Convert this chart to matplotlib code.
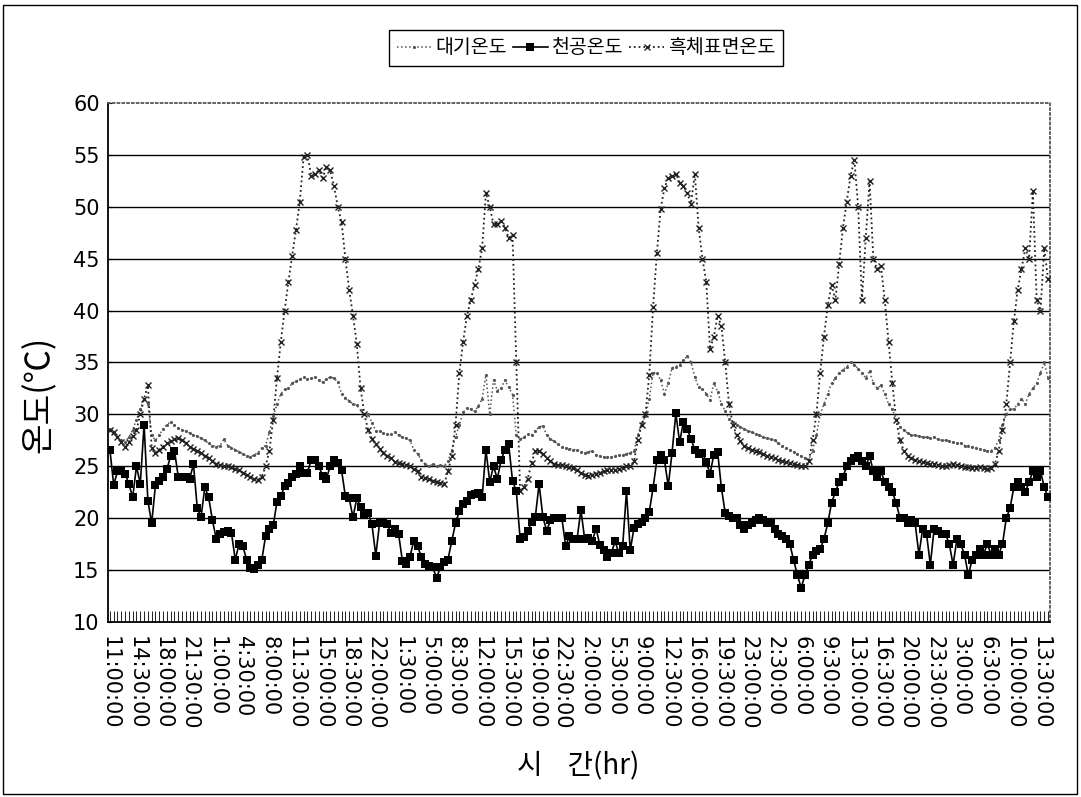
import numpy as np
import matplotlib
matplotlib.use("Agg")
import matplotlib.pyplot as plt
from matplotlib.patches import Rectangle

# =====================================
# DATA (30 min interval, 11:00 day 1 ~)
# =====================================

time_labels = [
    "11:00:00", "14:30:00", "18:00:00", "21:30:00", "1:00:00", "4:30:00",
    "8:00:00", "11:30:00", "15:00:00", "18:30:00", "22:00:00", "1:30:00",
    "5:00:00", "8:30:00", "12:00:00", "15:30:00", "19:00:00", "22:30:00",
    "2:00:00", "5:30:00", "9:00:00", "12:30:00", "16:00:00", "19:30:00",
    "23:00:00", "2:30:00", "6:00:00", "9:30:00", "13:00:00", "16:30:00",
    "20:00:00", "23:30:00", "3:00:00", "6:30:00", "10:00:00", "13:30:00",
]

air_temp = [
    28.6, 28.2, 27.8, 27.5, 27.3, 27.8, 28.5, 29.5, 30.5, 31.5,
    31.0, 28.0, 27.5, 28.0, 28.6, 29.0, 29.3, 29.0, 28.7, 28.5,
    28.4, 28.2, 28.0, 27.9, 27.7, 27.5, 27.2, 27.0, 26.9, 27.0,
    27.6, 27.0, 26.8, 26.6, 26.4, 26.2, 26.0, 25.9, 26.1, 26.3,
    26.8, 27.0, 28.3, 29.8, 31.0, 32.0, 32.4, 32.5, 33.0, 33.2,
    33.4, 33.6, 33.4, 33.5, 33.6, 33.3, 33.1, 33.4, 33.6, 33.5,
    33.1, 32.0, 31.6, 31.3, 31.0, 30.9, 30.4, 30.0, 30.0, 29.2,
    28.4, 28.4, 28.2, 28.1, 28.1, 28.3, 28.0, 27.8, 27.7, 27.5,
    26.6, 26.2, 25.6, 25.2, 25.0, 25.2, 25.0, 25.1, 25.0, 25.5,
    26.5, 27.8, 29.0, 30.2, 30.6, 30.5, 30.3, 30.8, 31.5, 33.8,
    30.0, 33.3, 32.3, 32.5, 33.3, 32.6, 31.9, 28.0, 27.6, 27.8,
    28.1, 28.0, 28.4, 28.8, 28.9, 28.0, 27.6, 27.4, 27.1, 26.9,
    26.8, 26.7, 26.6, 26.6, 26.4, 26.3, 26.4, 26.5, 26.1, 26.0,
    25.9, 25.9, 25.9, 26.0, 26.1, 26.1, 26.2, 26.3, 26.5, 28.0,
    29.2, 29.8, 31.5, 34.0, 34.0, 33.3, 32.0, 33.0, 34.5, 34.6,
    34.8, 35.2, 35.6, 35.0, 33.6, 32.6, 32.4, 32.0, 31.4, 33.0,
    32.2, 31.0, 30.3, 29.6, 29.3, 29.0, 28.8, 28.6, 28.4, 28.3,
    28.1, 28.0, 27.8, 27.7, 27.6, 27.5, 27.2, 27.0, 26.8, 26.6,
    26.4, 26.2, 26.0, 25.8, 25.6, 26.5, 28.0, 30.0, 31.0, 32.0,
    33.0, 33.5, 34.0, 34.3, 34.6, 35.0, 34.8, 34.4, 34.0, 33.5,
    34.2, 33.0, 32.5, 32.8, 32.0, 31.0, 30.5, 29.5, 28.8, 28.5,
    28.2, 28.0, 28.0, 27.9, 27.8, 27.8, 27.7, 27.8, 27.6, 27.5,
    27.5, 27.4, 27.3, 27.2, 27.2, 27.0, 27.0, 26.9, 26.8, 26.7,
    26.6, 26.5, 26.5, 26.8, 27.5, 29.0, 30.0, 30.5, 30.5, 31.0,
    31.5, 31.0, 32.0, 32.5, 33.0, 34.0, 35.0, 33.5,
]

sky_temp = [
    26.6, 23.2, 24.5, 24.5, 24.3, 23.3, 22.0, 25.0, 23.3, 29.0,
    21.7, 19.5, 23.2, 23.6, 24.0, 24.7, 26.0, 26.5, 24.0, 24.0,
    24.0, 23.8, 25.2, 21.0, 20.1, 23.0, 22.0, 19.8, 18.0, 18.5,
    18.7, 18.8, 18.6, 16.0, 17.5, 17.3, 16.0, 15.2, 15.1, 15.5,
    16.0, 18.3, 19.0, 19.3, 21.6, 22.1, 23.1, 23.4, 24.0, 24.3,
    25.0, 24.4, 24.4, 25.6, 25.6, 25.0, 24.1, 23.8, 25.0, 25.6,
    25.3, 24.6, 22.1, 21.9, 20.1, 21.9, 21.1, 20.4, 20.5, 19.4,
    16.4, 19.5, 19.6, 19.4, 18.6, 19.0, 18.5, 15.9, 15.6, 16.3,
    17.8, 17.3, 16.3, 15.6, 15.4, 15.3, 14.2, 15.3, 15.8, 16.0,
    17.8, 19.5, 20.7, 21.4, 21.7, 22.2, 22.3, 22.4, 22.0, 26.6,
    23.5, 25.0, 23.8, 25.6, 26.6, 27.1, 23.6, 22.6, 18.0, 18.2,
    18.8, 19.6, 20.1, 23.3, 20.1, 18.8, 19.8, 20.0, 20.0, 20.0,
    17.3, 18.3, 18.0, 18.0, 20.8, 18.0, 18.1, 17.8, 19.0, 17.4,
    16.9, 16.3, 16.6, 17.8, 16.6, 17.3, 22.6, 16.9, 19.1, 19.4,
    19.6, 20.0, 20.6, 22.9, 25.6, 26.1, 25.6, 23.1, 26.3, 30.1,
    27.3, 29.3, 28.6, 27.6, 26.6, 26.2, 26.3, 25.4, 24.3, 26.1,
    26.4, 22.9, 20.5, 20.2, 20.0, 20.0, 19.3, 19.0, 19.3, 19.5,
    19.8, 20.0, 19.8, 19.5, 19.5, 19.0, 18.5, 18.3, 18.0, 17.5,
    16.0, 14.5, 13.3, 14.5, 15.5, 16.5, 16.8, 17.0, 18.0, 19.5,
    21.5, 22.5, 23.5, 24.0, 25.0, 25.5, 25.8, 26.0, 25.5, 25.0,
    26.0, 24.5, 24.0, 24.5, 23.5, 23.0, 22.5, 21.5, 20.0, 20.0,
    19.5, 19.8, 19.5, 16.5, 19.0, 18.5, 15.5, 19.0, 18.8, 18.5,
    18.5, 17.5, 15.5, 18.0, 17.5, 16.5, 14.5, 16.0, 16.5, 17.0,
    16.5, 17.5, 16.5, 17.0, 16.5, 17.5, 20.0, 21.0, 23.0, 23.5,
    23.0, 22.5, 23.5, 24.5, 24.0, 24.5, 23.0, 22.0,
]

blackbody_temp = [
    28.5, 28.3, 27.8, 27.3, 26.9, 27.3, 27.9, 28.5, 30.0, 31.5,
    32.8, 26.8, 26.3, 26.6, 26.9, 27.2, 27.4, 27.6, 27.7, 27.5,
    27.2, 26.9, 26.7, 26.5, 26.3, 26.0, 25.8, 25.5, 25.2, 25.1,
    25.0, 25.0, 24.9, 24.7, 24.6, 24.4, 24.2, 24.0, 23.8, 23.7,
    24.0, 25.0, 26.5, 29.5, 33.5, 37.0, 40.0, 42.8, 45.3, 47.8,
    50.5, 54.8, 55.0, 53.0, 53.2, 53.5, 52.8, 53.8, 53.5, 52.0,
    50.0, 48.5, 45.0, 42.0, 39.5, 36.8, 32.5, 30.0, 28.5, 27.6,
    27.1, 26.7, 26.3, 26.0, 25.8, 25.4, 25.3, 25.2, 25.1, 25.0,
    24.7, 24.5, 24.0, 23.9, 23.8, 23.6, 23.5, 23.4, 23.3, 24.5,
    26.0, 29.0, 34.0, 37.0, 39.5, 41.0, 42.5, 44.0, 46.0, 51.3,
    50.0, 48.3, 48.3, 48.6, 48.0, 47.0, 47.3, 35.0, 22.6, 23.0,
    23.8, 25.3, 26.5, 26.5, 26.2, 25.8, 25.5, 25.2, 25.1, 25.1,
    25.0, 24.9, 24.8, 24.6, 24.4, 24.2, 24.1, 24.2, 24.3, 24.4,
    24.5, 24.6, 24.6, 24.6, 24.7, 24.8, 25.0, 25.0, 25.5, 27.5,
    29.0, 30.0, 33.8, 40.3, 45.5, 49.8, 51.8, 52.8, 53.0, 53.2,
    52.3, 52.0, 51.3, 50.3, 53.2, 48.0, 45.0, 42.8, 36.3, 37.5,
    39.5, 38.5, 35.0, 31.0, 29.0, 28.0, 27.4, 27.0, 26.8, 26.6,
    26.5, 26.4, 26.2, 26.0, 25.9, 25.8, 25.6, 25.5, 25.4, 25.3,
    25.2, 25.1, 25.0, 25.0, 25.5, 27.5, 30.0, 34.0, 37.5, 40.5,
    42.5, 41.0, 44.5, 48.0, 50.5, 53.0, 54.5, 50.0, 41.0, 47.0,
    52.5, 45.0, 44.0, 44.3, 41.0, 37.0, 33.0, 29.5, 27.5, 26.5,
    26.0, 25.8, 25.6, 25.5, 25.4, 25.3, 25.2, 25.2, 25.1, 25.0,
    25.0, 25.1, 25.2, 25.1, 25.0, 24.9, 24.9, 24.8, 24.8, 24.9,
    24.8, 24.7, 24.8, 25.2, 26.5, 28.5, 31.0, 35.0, 39.0, 42.0,
    44.0, 46.0, 45.0, 51.5, 41.0, 40.0, 46.0, 43.0,
]

series_names = ["대기온도", "천공온도", "흑체표면온도"]
y_ticks = [10, 15, 20, 25, 30, 35, 40, 45, 50, 55, 60]

# =====================================
# FONTS
# =====================================

KR = ["Noto Sans CJK KR", "DejaVu Sans"]
plt.rcParams["font.family"] = ["DejaVu Sans"]

# =====================================
# FIGURE
# =====================================

fig = plt.figure(figsize=(10.81, 7.97), dpi=100)
ax = fig.add_axes([0.0999, 0.2196, 0.8714, 0.6512])

n = len(air_temp)
idx = np.arange(n)

l_air, = ax.plot(idx, air_temp, linestyle=":", color="#555555", lw=1.1,
                 marker=".", markersize=2.5, zorder=3)
l_sky, = ax.plot(idx, sky_temp, linestyle="-", color="black", lw=1.2,
                 marker="s", markersize=6, markeredgewidth=0, zorder=4)
l_bb, = ax.plot(idx, blackbody_temp, linestyle=":", color="#222222", lw=1.3,
                marker="x", markersize=4.5, markeredgewidth=1.0, zorder=3)

# horizontal grid lines (top border stays dotted)
for v in y_ticks[1:-1]:
    ax.axhline(v, color="black", lw=1.0, zorder=1)

ax.set_xlim(-0.5, n - 0.5)
ax.set_ylim(10, 60)
ax.set_yticks(y_ticks)
ax.set_yticklabels([str(v) for v in y_ticks], fontsize=15)

ax.set_xticks(idx[::7])
ax.set_xticklabels(time_labels, rotation=270, fontsize=15)
ax.set_xticks(idx, minor=True)
ax.tick_params(axis="x", which="both", direction="in", length=8,
               width=0.6, pad=10)
ax.tick_params(axis="y", direction="in", length=3, pad=6)

for side in ["top", "right"]:
    ax.spines[side].set_linestyle(":")
    ax.spines[side].set_color("#555555")
    ax.spines[side].set_linewidth(1.3)
for side in ["left", "bottom"]:
    ax.spines[side].set_color("black")
    ax.spines[side].set_linewidth(1.3)

# =====================================
# LABELS + LEGEND
# =====================================

fig.text(0.036, 0.505, "온도(℃)", rotation=90, fontsize=24,
         family=KR, ha="center", va="center")
fig.text(0.535, 0.038, "시    간(hr)", fontsize=20,
         family=KR, ha="center", va="center")

leg = fig.legend([l_air, l_sky, l_bb], series_names,
                 loc="upper center", bbox_to_anchor=(0.542, 0.975),
                 ncol=3, prop={"family": KR, "size": 14},
                 frameon=True, fancybox=False, edgecolor="black",
                 framealpha=1, handlelength=1.8, handletextpad=0.2,
                 columnspacing=0.3, borderpad=0.4)
leg.get_frame().set_linewidth(1.0)

# outer chart border
fig.patches.append(Rectangle((0.003, 0.004), 0.993, 0.99,
                             transform=fig.transFigure, fill=False,
                             edgecolor="black", lw=1.0))

fig.savefig("out.png", dpi=100)
